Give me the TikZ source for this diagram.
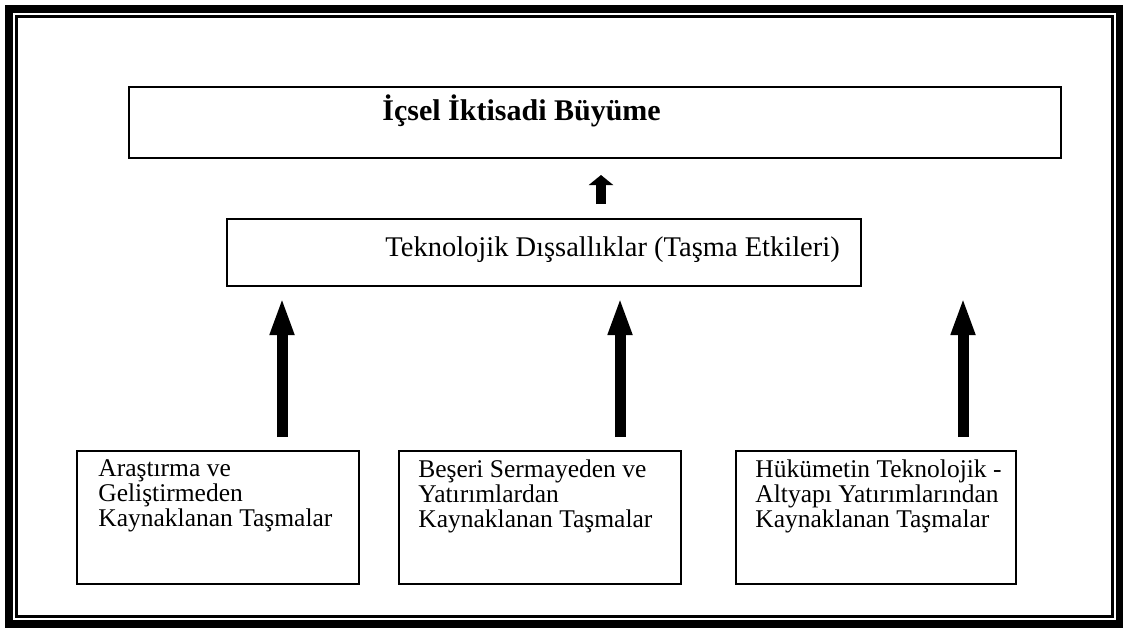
\documentclass[tikz,border=0pt]{standalone}
\usepackage{fontspec}
\setmainfont{Liberation Serif}
\usetikzlibrary{arrows.meta}
\tikzstyle{bigbox}=[draw,line width=1pt,inner sep=0pt,anchor=north west]
\tikzstyle{boxtext}=[inner sep=0pt,anchor=north west,align=left,font=\fontsize{12.75}{12.6}\selectfont]
\tikzstyle{uparrow}=[line width=5.5pt,-{Triangle[length=19pt,width=11pt]}]
\tikzstyle{smallarrow}=[line width=5pt,-{Triangle[length=5pt,width=12pt]}]

\begin{document}
\begin{tikzpicture}[x=0.5pt,y=-0.5pt]
\useasboundingbox (0,0) rectangle (1123,628);

% frame
\draw[line width=4pt] (9,9) rectangle (1120,624);
\draw[line width=1.5pt] (16.5,16.5) rectangle (1112,616.5);

% growth
\node[bigbox,minimum width=466pt,minimum height=35.5pt] (growth) at (128,86) {};
\node[anchor=base west,inner sep=0pt,font=\fontsize{15}{18}\selectfont\bfseries] (growthtext) at (382,120) {İçsel İktisadi Büyüme};

% spillovers
\node[bigbox,minimum width=317pt,minimum height=33.5pt] (tech) at (226,218) {};
\node[anchor=base west,inner sep=0pt,font=\fontsize{14.25}{17}\selectfont] (techtext) at (385,256) {Teknolojik Dışsallıklar (Taşma Etkileri)};

% sources
\foreach \name/\x/\w in {rd/76/141, hc/398/141, gov/735/140}
    \node[bigbox,minimum width=\w pt,minimum height=66.5pt] (\name) at (\x,450) {};

\node[boxtext] (rdtext) at (98,459) {Araştırma ve\\Geliştirmeden\\Kaynaklanan Taşmalar};
\node[boxtext] (hctext) at (418,459) {Beşeri Sermayeden ve\\Yatırımlardan\\Kaynaklanan Taşmalar};
\node[boxtext] (govtext) at (755,459) {Hükümetin Teknolojik -\\Altyapı Yatırımlarından\\Kaynaklanan Taşmalar};

% arrows
\foreach \name/\x in {rd/282, hc/620, gov/963}
    \draw[uparrow,shorten <=6.5pt,shorten >=5pt] (\x,0 |- \name.north) -- (\x,0 |- tech.south);
\draw[smallarrow,shorten <=7pt,shorten >=8pt] (601,0 |- tech.north) -- (601,0 |- growth.south);

\end{tikzpicture}
\end{document}
